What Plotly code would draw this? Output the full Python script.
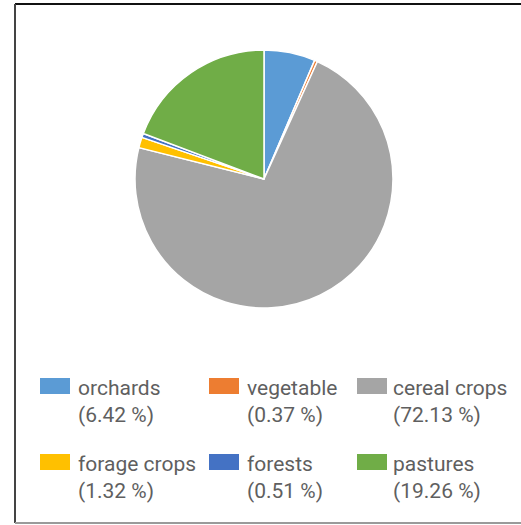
import plotly.graph_objects as go

# Land use shares (%)
categories = ["orchards", "vegetable", "cereal crops", "forage crops", "forests", "pastures"]
shares = [6.42, 0.37, 72.13, 1.32, 0.51, 19.26]
colors = ["#5B9BD5", "#ED7D31", "#A5A5A5", "#FFC000", "#4472C4", "#70AD47"]

W, H = 521, 525


def px(x):
    return x / W


def py(y):
    return 1 - y / H


fig = go.Figure()

fig.add_trace(go.Pie(
    labels=categories,
    values=shares,
    sort=False,
    direction="clockwise",
    rotation=0,
    marker=dict(colors=colors, line=dict(color="white", width=1.5)),
    textinfo="none",
    hoverinfo="label+percent",
    showlegend=False,
    domain=dict(x=[px(135), px(393)], y=[py(308), py(50)]),
))

# Legend laid out as a 3 x 2 grid below the pie
col_x = [40, 209, 357]
text_dx = [36, 36, 34]
row_y = [386, 462]
sw_w, sw_h = 30, 16
shapes = []
annotations = []
for i, (name, val, col) in enumerate(zip(categories, shares, colors)):
    r, c = divmod(i, 3)
    x0 = col_x[c]
    yc = row_y[r]
    shapes.append(dict(
        type="rect", xref="paper", yref="paper",
        x0=px(x0), x1=px(x0 + sw_w), y0=py(yc + sw_h / 2), y1=py(yc - sw_h / 2),
        fillcolor=col, line=dict(width=0),
    ))
    annotations.append(dict(
        xref="paper", yref="paper", x=px(x0 + text_dx[c]), y=py(yc - 12),
        xanchor="left", yanchor="top", align="left", showarrow=False,
        text=f"{name}<br>({val:.2f} %)",
        font=dict(family="Roboto", size=21, color="#5f5f5f"),
    ))

# Outer frame (open on the right)
shapes += [
    dict(type="line", xref="paper", yref="paper", x0=px(15), x1=px(530), y0=py(4), y1=py(4),
         line=dict(color="#111111", width=2)),
    dict(type="line", xref="paper", yref="paper", x0=px(15), x1=px(15), y0=py(4), y1=py(523),
         line=dict(color="#444444", width=2)),
    dict(type="line", xref="paper", yref="paper", x0=px(15), x1=px(530), y0=py(523), y1=py(523),
         line=dict(color="#9a9a9a", width=2)),
]

fig.update_layout(
    width=W, height=H,
    margin=dict(l=0, r=0, t=0, b=0),
    paper_bgcolor="white",
    plot_bgcolor="white",
    shapes=shapes,
    annotations=annotations,
)

fig.write_html("out.html")
